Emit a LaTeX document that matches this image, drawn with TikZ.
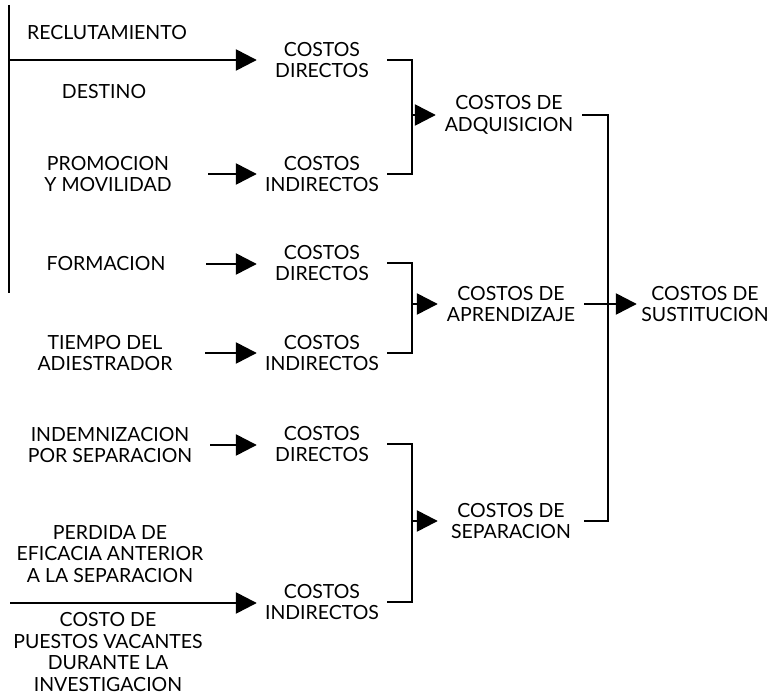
\documentclass[tikz,border=0pt]{standalone}
\usepackage{fontspec}
\setmainfont{Lato}
\usetikzlibrary{arrows.meta}
\begin{document}
\begin{tikzpicture}[x=1pt,y=-1pt,
  txt/.style={align=center, inner sep=0pt, font=\fontsize{19.5}{21.8}\selectfont},
  src/.style={txt, minimum width=200pt},
  mid/.style={txt, minimum width=130pt},
  agg/.style={txt, minimum width=146pt},
  fin/.style={txt, minimum width=136pt},
  ln/.style={line width=2.5pt},
  arr/.style={ln, -{Triangle[length=21pt,width=21pt]}},
]
\useasboundingbox (0,0) rectangle (780,698);
% left column
\node[src] (recl) at (107,33) {RECLUTAMIENTO};
\node[src] (dest) at (104,92) {DESTINO};
\node[src] (prom) at (108,174) {PROMOCION\\Y MOVILIDAD};
\node[src] (form) at (106,264) {FORMACION};
\node[src] (tiem) at (105,353) {TIEMPO DEL\\ADIESTRADOR};
\node[src] (inde) at (110,445) {INDEMNIZACION\\POR SEPARACION};
\node[src] (perd) at (110,554) {PERDIDA DE\\EFICACIA ANTERIOR\\A LA SEPARACION};
\node[src] (cost) at (108,652) {COSTO DE\\PUESTOS VACANTES\\DURANTE LA\\INVESTIGACION};
% middle column
\node[mid] (cd1) at (322,60) {COSTOS\\DIRECTOS};
\node[mid] (ci1) at (322,174) {COSTOS\\INDIRECTOS};
\node[mid] (cd2) at (322,263) {COSTOS\\DIRECTOS};
\node[mid] (ci2) at (322,353) {COSTOS\\INDIRECTOS};
\node[mid] (cd3) at (322,444) {COSTOS\\DIRECTOS};
\node[mid] (ci3) at (322,602) {COSTOS\\INDIRECTOS};
% aggregates
\node[agg] (adq) at (509,115) {COSTOS DE\\ADQUISICION};
\node[agg] (apr) at (511,304) {COSTOS DE\\APRENDIZAJE};
\node[agg] (sep) at (511,521) {COSTOS DE\\SEPARACION};
\node[fin] (sus) at (705,304) {COSTOS DE\\SUSTITUCION};
% free ends
\coordinate (lt) at (9,5);
\coordinate (lb) at (9,293);
\coordinate (bl) at (10,603);
\coordinate (j1) at (412,0);
\coordinate (j4) at (608,0);
% left connectors
\draw[ln] (lt) -- (lb);
\draw[arr] (lt |- cd1.west) -- (cd1.west);
\draw[arr] (prom.east) -- (prom.east -| ci1.west);
\draw[arr] (form.east) -- (form.east -| cd2.west);
\draw[arr] (tiem.east) -- (tiem.east -| ci2.west);
\draw[arr] (inde.east) -- (inde.east -| cd3.west);
\draw[arr] (bl) -- (bl -| ci3.west);
% brackets
\draw[ln] (cd1.east) -| (j1 |- ci1.east) -- (ci1.east);
\draw[arr] (j1 |- adq.west) -- (adq.west);
\draw[ln] (cd2.east) -| (j1 |- ci2.east) -- (ci2.east);
\draw[arr] (j1 |- apr.west) -- (apr.west);
\draw[ln] (cd3.east) -| (j1 |- ci3.east) -- (ci3.east);
\draw[arr] (j1 |- sep.west) -- (sep.west);
\draw[ln] (adq.east) -| (j4 |- sep.east) -- (sep.east);
\draw[arr] (apr.east) -- (apr.east -| sus.west);
\end{tikzpicture}
\end{document}
